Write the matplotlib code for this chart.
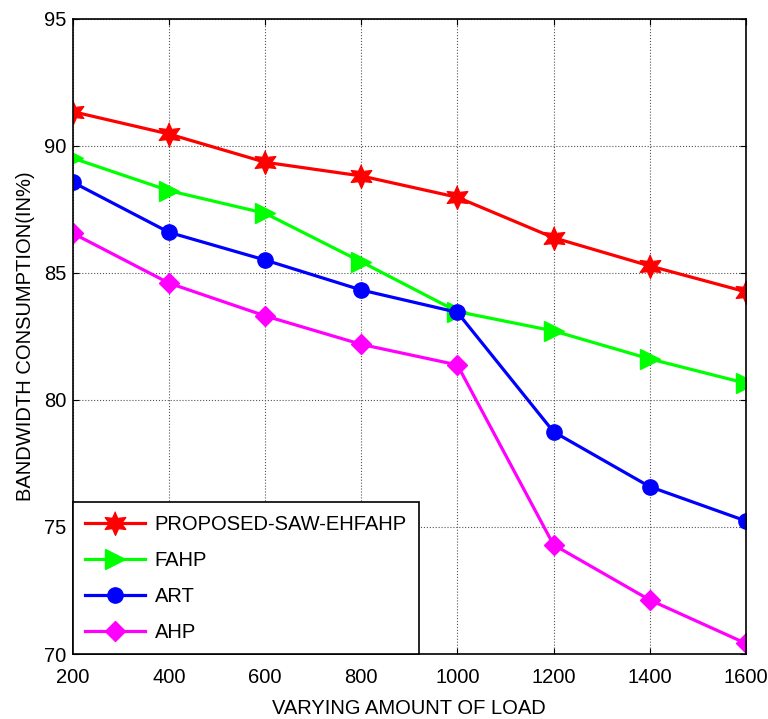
import numpy as np
import matplotlib
matplotlib.use('Agg')
import matplotlib.pyplot as plt

# data
load = [200, 400, 600, 800, 1000, 1200, 1400, 1600]
proposed = [91.35, 90.47, 89.36, 88.82, 87.98, 86.39, 85.28, 84.26]
fahp = [89.52, 88.24, 87.35, 85.44, 83.48, 82.72, 81.62, 80.66]
art = [88.57, 86.60, 85.51, 84.33, 83.45, 78.75, 76.59, 75.24]
ahp = [86.56, 84.60, 83.31, 82.19, 81.38, 74.30, 72.13, 70.42]
labels = ['PROPOSED-SAW-EHFAHP', 'FAHP', 'ART', 'AHP']

plt.rcParams['font.family'] = ['Liberation Sans', 'DejaVu Sans']

# six-point star like MATLAB's hexagram
ang = np.pi / 2 + np.arange(12) * np.pi / 6
rad = np.where(np.arange(12) % 2 == 0, 1.0, 0.5)
hexagram = list(zip(rad * np.cos(ang), rad * np.sin(ang)))

fig = plt.figure(figsize=(7.68, 7.19), dpi=100)
ax = fig.add_axes([0.095, 0.0904, 0.876, 0.8832])

ax.plot(load, proposed, color='red', lw=2.3, marker=hexagram, ms=17, label=labels[0])
ax.plot(load, fahp, color='#00ff00', lw=2.3, marker='>', ms=14, label=labels[1])
ax.plot(load, art, color='blue', lw=2.3, marker='o', ms=11, label=labels[2])
ax.plot(load, ahp, color='magenta', lw=2.3, marker='D', ms=10, label=labels[3])

ax.set_xlim(200, 1600)
ax.set_ylim(70, 95)
ax.set_xticks(load)
ax.set_yticks([70, 75, 80, 85, 90, 95])
ax.grid(True, color='#555555', linestyle=':', linewidth=0.8)
ax.tick_params(direction='in', top=True, right=True, length=4, labelsize=14.5)
ax.tick_params(axis='x', pad=10)
ax.tick_params(axis='y', pad=5)
for s in ax.spines.values():
    s.set_linewidth(1.2)

ax.set_xlabel('VARYING AMOUNT OF LOAD', fontsize=14.5, labelpad=9)
ax.set_ylabel('BANDWIDTH CONSUMPTION(IN%)', fontsize=14.5, labelpad=6)

leg = ax.legend(loc='lower left', fontsize=14.5, frameon=True, fancybox=False,
                borderaxespad=0, edgecolor='black', framealpha=1,
                handlelength=3.0, handletextpad=0.45, labelspacing=0.85,
                borderpad=0.6)
leg.get_frame().set_linewidth(1.2)

fig.savefig('out.png', dpi=100)
